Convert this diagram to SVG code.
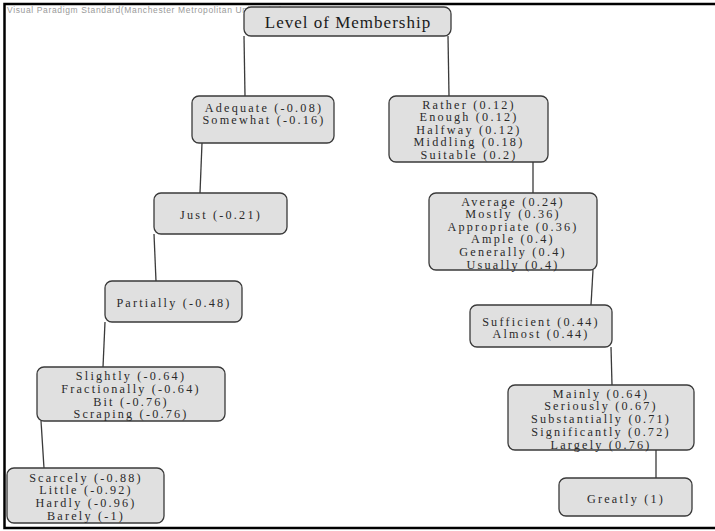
<svg xmlns="http://www.w3.org/2000/svg" width="715" height="531" viewBox="0 0 715 531">
<style>
.frame{stroke:#000;stroke-width:2.5;fill:none}
.box{fill:#e0e0e0;stroke:#3a3a3a;stroke-width:1.3}
.t{font-family:"Liberation Serif","Times New Roman",serif;font-size:12.2px;letter-spacing:2.2px;fill:#2a2a2a;text-anchor:middle}
.title{font-family:"Liberation Serif","Times New Roman",serif;font-size:17px;letter-spacing:1px;fill:#1a1a1a;text-anchor:middle}
.wm{font-family:"Liberation Sans",Arial,sans-serif;font-size:8.5px;fill:#9a9a9a}
.c{stroke:#3a3a3a;stroke-width:1.3;fill:none}
</style>
<rect width="715" height="531" fill="#fff"/>
<path class="frame" d="M715,4 H4.5 V528 H715"/>
<text class="wm" x="7" y="13" textLength="275" lengthAdjust="spacing">Visual Paradigm Standard(Manchester Metropolitan University)</text>
<g id="connectors">
<line class="c" x1="244" y1="36" x2="245" y2="96"/>
<line class="c" x1="448" y1="36" x2="449" y2="96"/>
<line class="c" x1="202" y1="143" x2="200" y2="193"/>
<line class="c" x1="154" y1="234" x2="156" y2="281"/>
<line class="c" x1="105" y1="322" x2="103" y2="367"/>
<line class="c" x1="41" y1="421" x2="44" y2="468"/>
<line class="c" x1="533" y1="162" x2="533" y2="193"/>
<line class="c" x1="593" y1="270" x2="591" y2="305"/>
<line class="c" x1="611" y1="347" x2="612" y2="385"/>
<line class="c" x1="656" y1="450" x2="656" y2="478"/>
</g>
<g id="level">
<rect class="box" x="244" y="7" width="207" height="29" rx="7"/>
<text class="title" x="348" y="28">Level of Membership</text>
</g>
<g id="adequate">
<rect class="box" x="192" y="96" width="142" height="47" rx="7"/>
<text class="t" x="264" y="111.5">Adequate (-0.08)</text>
<text class="t" x="264" y="124">Somewhat (-0.16)</text>
</g>
<g id="rather">
<rect class="box" x="389" y="96" width="159" height="66" rx="7"/>
<text class="t" x="469" y="108.5">Rather (0.12)</text>
<text class="t" x="469" y="121">Enough (0.12)</text>
<text class="t" x="469" y="133.5">Halfway (0.12)</text>
<text class="t" x="469" y="146">Middling (0.18)</text>
<text class="t" x="469" y="159">Suitable (0.2)</text>
</g>
<g id="just">
<rect class="box" x="154" y="193" width="133" height="41" rx="7"/>
<text class="t" x="221" y="218.5">Just (-0.21)</text>
</g>
<g id="partially">
<rect class="box" x="105" y="281" width="137" height="41" rx="7"/>
<text class="t" x="174" y="306.5">Partially (-0.48)</text>
</g>
<g id="slightly">
<rect class="box" x="37" y="367" width="188" height="54" rx="7"/>
<text class="t" x="131" y="379.5">Slightly (-0.64)</text>
<text class="t" x="131" y="392.5">Fractionally (-0.64)</text>
<text class="t" x="131" y="405.5">Bit (-0.76)</text>
<text class="t" x="131" y="418">Scraping (-0.76)</text>
</g>
<g id="scarcely">
<rect class="box" x="7" y="468" width="157" height="55" rx="7"/>
<text class="t" x="86" y="481.5">Scarcely (-0.88)</text>
<text class="t" x="86" y="494">Little (-0.92)</text>
<text class="t" x="86" y="507">Hardly (-0.96)</text>
<text class="t" x="86" y="519.5">Barely (-1)</text>
</g>
<g id="average">
<rect class="box" x="429" y="193" width="168" height="77" rx="7"/>
<text class="t" x="513" y="205.5">Average (0.24)</text>
<text class="t" x="513" y="218">Mostly (0.36)</text>
<text class="t" x="513" y="230.5">Appropriate (0.36)</text>
<text class="t" x="513" y="243">Ample (0.4)</text>
<text class="t" x="513" y="256">Generally (0.4)</text>
<text class="t" x="513" y="268.5">Usually (0.4)</text>
</g>
<g id="sufficient">
<rect class="box" x="470" y="305" width="142" height="42" rx="7"/>
<text class="t" x="541" y="325.5">Sufficient (0.44)</text>
<text class="t" x="541" y="338">Almost (0.44)</text>
</g>
<g id="mainly">
<rect class="box" x="508" y="385" width="186" height="65" rx="7"/>
<text class="t" x="601" y="397.5">Mainly (0.64)</text>
<text class="t" x="601" y="410">Seriously (0.67)</text>
<text class="t" x="601" y="423">Substantially (0.71)</text>
<text class="t" x="601" y="436">Significantly (0.72)</text>
<text class="t" x="601" y="448.5">Largely (0.76)</text>
</g>
<g id="greatly">
<rect class="box" x="559" y="478" width="133" height="38" rx="7"/>
<text class="t" x="626" y="502.5">Greatly (1)</text>
</g>
</svg>
